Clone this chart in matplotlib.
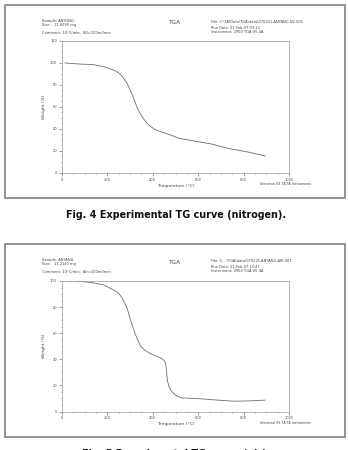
import matplotlib
matplotlib.use("Agg")
import matplotlib.pyplot as plt
from matplotlib.patches import Rectangle
from matplotlib.ticker import MultipleLocator

# TG curve in nitrogen (temperature in C, weight in %)
n2_temp = [13, 80, 139, 184, 228, 250, 265, 287, 310, 332, 347, 362, 376, 390,
           406, 435, 465, 517, 584, 658, 732, 821, 895]
n2_weight = [100, 99, 98.5, 96.6, 93.6, 91, 88, 81.5, 71, 59, 53, 48.5, 45, 42.3,
             40, 37.5, 35.5, 31.5, 29, 26.4, 22.4, 19, 15.5]

# TG curve in air
air_temp = [20, 50, 125, 184, 228, 250, 265, 287, 302, 324, 346, 365, 383, 420,
            440, 450, 455, 458, 462, 465, 472, 480, 500, 524, 613, 687, 761, 835, 894]
air_weight = [100, 100, 99, 97, 93, 90.5, 87, 79, 70, 58.7, 50, 47, 45, 42,
              40.5, 39, 37.5, 35, 28, 23, 19, 16, 12.5, 10.5, 9.7, 8.7, 7.9, 8.2, 8.7]

W, H = 348, 450
fig = plt.figure(figsize=(W / 100, H / 100), dpi=100)
fig.patch.set_facecolor("white")


def fx(px):
    return px / W


def fy(py):
    return 1 - py / H


def panel(top, temp, weight, ymax, axes_top, axes_bottom, head_left, head_right, caption):
    bottom = top + 193
    fig.patches.append(Rectangle((fx(5), fy(bottom)), fx(340), (bottom - top) / H,
                                 transform=fig.transFigure, fill=False,
                                 edgecolor="#8a8a8a", linewidth=1.3))
    small = dict(fontsize=2.6, color="#444444", va="center")
    fig.text(fx(42), fy(top + 16), head_left[0], **small)
    fig.text(fx(42), fy(top + 20), head_left[1], **small)
    fig.text(fx(42), fy(top + 28), head_left[2], **small)
    fig.text(fx(174), fy(top + 18), "TGA", fontsize=4.2, color="#444444",
             ha="center", va="center")
    fig.text(fx(211), fy(top + 17), head_right[0], **small)
    fig.text(fx(211), fy(top + 23), head_right[1], **small)
    fig.text(fx(211), fy(top + 27), head_right[2], **small)

    ax = fig.add_axes([fx(62), fy(axes_bottom), fx(289 - 62), (axes_bottom - axes_top) / H])
    ax.plot(temp, weight, color="#6e6e6e", linewidth=0.6)
    ax.set_xlim(0, 1000)
    ax.set_ylim(0, ymax)
    ax.xaxis.set_major_locator(MultipleLocator(200))
    ax.xaxis.set_minor_locator(MultipleLocator(50))
    ax.yaxis.set_major_locator(MultipleLocator(20))
    ax.yaxis.set_minor_locator(MultipleLocator(5))
    ax.tick_params(which="both", labelsize=2.6, colors="#555555", width=0.4, pad=1.5)
    ax.tick_params(which="major", length=2)
    ax.tick_params(which="minor", length=1)
    for s in ax.spines.values():
        s.set_color("#9a9a9a")
        s.set_linewidth(0.5)
    ax.set_xlabel("Temperature (°C)", fontsize=3.2, color="#444444", labelpad=1.5)
    ax.set_ylabel("Weight (%)", fontsize=3.2, color="#444444", labelpad=3)
    fig.text(fx(260), fy(axes_bottom + 11), "Universal V3.7A TA Instruments",
             fontsize=2.3, color="#444444", va="center")
    fig.text(fx(176), fy(bottom + 17), caption, fontsize=6.9, fontweight="bold",
             ha="center", va="center", color="#111111")


panel(5, n2_temp, n2_weight, 120, 41, 173,
      ["Sample: ANYONO", "Size:   11.6090 mg", "Comment: 10\u00b0C/min,  N2=100ml/min"],
      ["File: C:\\TA\\Data\\TGA\\data\\070221-ANYANG-N2.001",
       "Run Date: 21-Feb-07 09:12", "Instrument: 2950 TGA V5.4A"],
      "Fig. 4 Experimental TG curve (nitrogen).")

panel(244, air_temp, air_weight, 100, 281, 411.5,
      ["Sample: ANYANG", "Size:   11.2140 mg", "Comment: 10\u00b0C/min,  Air=100ml/min"],
      ["File: C:...\\TGA\\data\\070221-ANYANG-AIR.001",
       "Run Date: 21-Feb-07 13:47", "Instrument: 2950 TGA V5.4A"],
      "Fig. 5 Experimental TG curve (air).")

fig.savefig("out.png", dpi=100)
